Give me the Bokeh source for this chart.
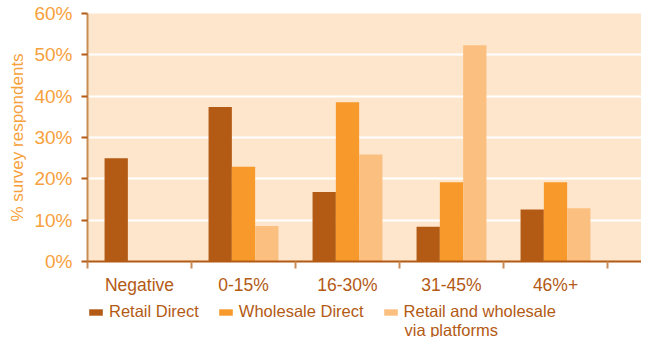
from bokeh.plotting import figure
from bokeh.layouts import column
from bokeh.models import Range1d, FixedTicker, Legend, LegendItem, ColumnDataSource, Label
from bokeh.embed import file_html
from bokeh.resources import INLINE

categories = ["Negative", "0-15%", "16-30%", "31-45%", "46%+"]
retail_direct = [25.0, 37.4, 16.8, 8.4, 12.6]
wholesale_direct = [0.0, 22.9, 38.5, 19.2, 19.2]
platforms = [0.0, 8.6, 25.9, 52.3, 12.9]
series_names = ["Retail Direct", "Wholesale Direct", "Retail and wholesale"]
series_name_cont = "via platforms"
y_ticks = [0, 10, 20, 30, 40, 50, 60]
y_tick_labels = ["0%", "10%", "20%", "30%", "40%", "50%", "60%"]

colors = ["#b35a14", "#f7992b", "#fbbf80"]
FONT = "Liberation Sans"
W = 641
LEFT = 87

p = figure(width=W, frame_height=248, output_backend="svg", toolbar_location=None,
           x_range=Range1d(0, (W - LEFT) / 104), y_range=Range1d(0, 60),
           min_border_left=LEFT, min_border_top=13, min_border_right=0, min_border_bottom=32)
p.background_fill_color = "#fde6cc"
p.border_fill_color = "white"
p.outline_line_color = None

bar_w = 0.224
offsets = [-bar_w, 0.0, bar_w]
for vals, off, col in zip([retail_direct, wholesale_direct, platforms], offsets, colors):
    xs = [i + 0.5 + off for i in range(len(categories))]
    src = ColumnDataSource(dict(x=xs, top=vals))
    p.vbar(x="x", top="top", width=bar_w, source=src, fill_color=col, line_color=None)

# grid
p.xgrid.grid_line_color = None
p.ygrid.grid_line_color = "white"
p.ygrid.grid_line_width = 2
p.ygrid.ticker = FixedTicker(ticks=y_ticks)

# y axis
p.yaxis.ticker = FixedTicker(ticks=y_ticks)
p.yaxis.major_label_overrides = {t: l for t, l in zip(y_ticks, y_tick_labels)}
p.yaxis.axis_label = "% survey respondents"
p.yaxis.axis_label_text_font = FONT
p.yaxis.axis_label_text_font_style = "normal"
p.yaxis.axis_label_text_font_size = "17px"
p.yaxis.axis_label_text_color = "#f7a13c"
p.yaxis.axis_label_standoff = 4
p.yaxis.major_label_text_font = FONT
p.yaxis.major_label_text_font_size = "19px"
p.yaxis.major_label_text_color = "#f7a13c"
p.yaxis.major_label_standoff = 9
p.yaxis.axis_line_color = "#c98c55"
p.yaxis.axis_line_width = 2
p.yaxis.major_tick_line_color = "#b35a14"
p.yaxis.major_tick_line_width = 2
p.yaxis.major_tick_out = 6
p.yaxis.major_tick_in = 0
p.yaxis.minor_tick_line_color = None

# x axis
p.xaxis.ticker = FixedTicker(ticks=[i + 0.5 for i in range(len(categories))],
                             minor_ticks=list(range(len(categories) + 1)))
p.xaxis.major_label_overrides = {i + 0.5: c for i, c in enumerate(categories)}
p.xaxis.major_label_text_font = FONT
p.xaxis.major_label_text_font_size = "17.5px"
p.xaxis.major_label_text_color = "#b35a14"
p.xaxis.major_label_standoff = 6
p.xaxis.major_tick_line_color = None
p.xaxis.minor_tick_line_color = "#c98c55"
p.xaxis.minor_tick_line_width = 2
p.xaxis.minor_tick_out = 7
p.xaxis.minor_tick_in = 0
p.xaxis.axis_line_color = "#b35a14"
p.xaxis.axis_line_width = 2

# legend strip (frame aligned with the chart's frame by the column layout)
LH = 40
p2 = figure(width=W, height=LH, output_backend="svg", toolbar_location=None,
            x_range=Range1d(0, W - LEFT), y_range=Range1d(0, LH),
            x_axis_location=None, y_axis_location=None,
            min_border_left=LEFT, min_border_right=0, min_border_top=0, min_border_bottom=0)
p2.outline_line_color = None
p2.background_fill_color = "white"
p2.border_fill_color = "white"
p2.xgrid.grid_line_color = None
p2.ygrid.grid_line_color = None
nan = float("nan")
leg_renderers = [p2.vbar(x=[nan], top=[nan], width=1, fill_color=c, line_color=None) for c in colors]
legend = Legend(items=[LegendItem(label=n, renderers=[r]) for n, r in zip(series_names, leg_renderers)],
                orientation="horizontal", location=(0, 16),
                label_text_font=FONT, label_text_font_size="16.5px", label_text_color="#b35a14",
                glyph_width=17, glyph_height=8, label_standoff=5, spacing=18,
                padding=0, margin=0, border_line_color=None, background_fill_alpha=0)
p2.add_layout(legend, "center")
p2.add_layout(Label(x=317, y=8, text=series_name_cont, text_font=FONT, text_font_size="16.5px",
                    text_color="#b35a14", text_baseline="middle", text_align="left"))

layout = column(p, p2, spacing=0)
open("out.html", "w").write(file_html(layout, INLINE))
